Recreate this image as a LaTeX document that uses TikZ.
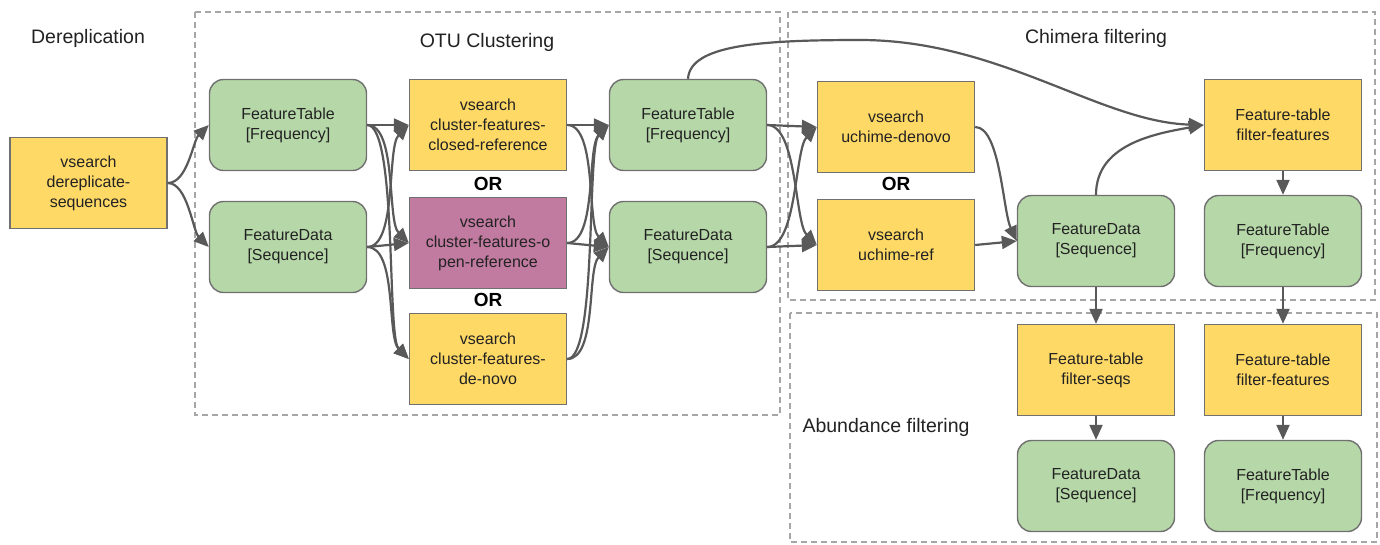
\documentclass[tikz,border=0pt]{standalone}
\usepackage{fontspec}
\setmainfont{Liberation Sans}
\usetikzlibrary{arrows.meta}
\definecolor{yel}{HTML}{FFD966}
\definecolor{grn}{HTML}{B6D7A8}
\definecolor{pur}{HTML}{C27BA0}
\definecolor{edgec}{HTML}{707070}
\definecolor{arrc}{HTML}{595959}
\definecolor{dashc}{HTML}{A6A6A6}
\definecolor{txt}{HTML}{222222}
\begin{document}
\begin{tikzpicture}[x=1pt,y=-1pt,
 base/.style={minimum width=157pt, minimum height=91pt, align=center, text=txt,
   font=\fontsize{16}{20}\selectfont, draw=edgec, line width=1.4pt, inner sep=0pt},
 act/.style={base, fill=yel},
 openact/.style={base, fill=pur},
 data/.style={base, fill=grn, rounded corners=14pt},
 arr/.style={draw=arrc, line width=2.2pt, -{Triangle[length=15pt,width=13pt]}},
 grp/.style={draw=dashc, line width=1.5pt, dash pattern=on 6pt off 4pt},
 lbl/.style={text=txt, font=\fontsize{19.5}{22}\selectfont},
 orl/.style={text=black, font=\bfseries\fontsize{19}{22}\selectfont}]
\useasboundingbox (0,0) rectangle (1380,544);
\fill[white] (0,0) rectangle (1380,544);

% groups
\draw[grp] (195,12) rectangle (780,415);
\draw[grp] (788,12) rectangle (1375,300);
\draw[grp] (790,313) rectangle (1377,542);

% labels
\node[lbl] (tDer) at (88,38) {Dereplication};
\node[lbl] (tOTU) at (487,42) {OTU Clustering};
\node[lbl] (tChi) at (1096,38) {Chimera filtering};
\node[lbl] (tAbu) at (886,427) {Abundance filtering};

% nodes
\node[act] (derep) at (88.5,183) {vsearch\\dereplicate-\\sequences};
\node[data] (ftA) at (288,125) {FeatureTable\\{[}Frequency{]}};
\node[data] (fdA) at (288,247) {FeatureData\\{[}Sequence{]}};
\node[act] (closed) at (488,125) {vsearch\\cluster-features-\\closed-reference};
\node[openact] (open) at (488,243) {vsearch\\cluster-features-o\\pen-reference};
\node[act] (denovo) at (488,359) {vsearch\\cluster-features-\\de-novo};
\node[orl] (orA) at (488,184) {OR};
\node[orl] (orB) at (488,300) {OR};
\node[data] (ftB) at (688,125) {FeatureTable\\{[}Frequency{]}};
\node[data] (fdB) at (688,247) {FeatureData\\{[}Sequence{]}};
\node[act] (uden) at (896,127) {vsearch\\uchime-denovo};
\node[act] (uref) at (896,245) {vsearch\\uchime-ref};
\node[orl] (orC) at (896,184) {OR};
\node[data] (fdC) at (1096,241) {FeatureData\\{[}Sequence{]}};
\node[act] (ffA) at (1283,125) {Feature-table\\filter-features};
\node[data] (ftC) at (1283,241) {FeatureTable\\{[}Frequency{]}};
\node[act] (fs) at (1096,370) {Feature-table\\filter-seqs};
\node[act] (ffB) at (1283,370) {Feature-table\\filter-features};
\node[data] (fdD) at (1096,486) {FeatureData\\{[}Sequence{]}};
\node[data] (ftD) at (1283,486) {FeatureTable\\{[}Frequency{]}};

% connectors
\draw[arr] (derep.east) .. controls +(20,0) and +(-16,16) .. (ftA.west);
\draw[arr] (derep.east) .. controls +(20,0) and +(-16,-16) .. (fdA.west);

\draw[arr] (ftA.east) -- (closed.west);
\draw[arr] (ftA.east) .. controls +(30,0) and +(-22,-22) .. (open.west);
\draw[arr] (ftA.east) .. controls +(30,0) and +(-22,-22) .. (denovo.west);
\draw[arr] (fdA.east) .. controls +(30,0) and +(-22,22) .. (closed.west);
\draw[arr] (fdA.east) -- (open.west);
\draw[arr] (fdA.east) .. controls +(30,0) and +(-22,-22) .. (denovo.west);

\draw[arr] (closed.east) -- (ftB.west);
\draw[arr] (closed.east) .. controls +(30,0) and +(-22,-22) .. (fdB.west);
\draw[arr] (open.east) .. controls +(30,0) and +(-22,22) .. (ftB.west);
\draw[arr] (open.east) -- (fdB.west);
\draw[arr] (denovo.east) .. controls +(30,0) and +(-22,22) .. (ftB.west);
\draw[arr] (denovo.east) .. controls +(30,0) and +(-22,22) .. (fdB.west);

\draw[arr] (ftB.east) -- (uden.west);
\draw[arr] (ftB.east) .. controls +(30,0) and +(-22,-22) .. (uref.west);
\draw[arr] (fdB.east) .. controls +(30,0) and +(-22,22) .. (uden.west);
\draw[arr] (fdB.east) -- (uref.west);

\draw[arr] (uden.east) .. controls +(25,0) and +(-14,-30) .. (fdC.west);
\draw[arr] (uref.east) -- (fdC.west);

\draw[arr] (ftB.north) .. controls (690,45) and (760,40) .. (860,40)
  .. controls (1000,40) and (1100,122) .. (ffA.west);
\draw[arr] (fdC.north) to[out=90,in=190] (ffA.west);

\draw[arr] (ffA.south) -- (ftC.north);
\draw[arr] (fdC.south) -- (fs.north);
\draw[arr] (ftC.south) -- (ffB.north);
\draw[arr] (fs.south) -- (fdD.north);
\draw[arr] (ffB.south) -- (ftD.north);
\end{tikzpicture}
\end{document}
